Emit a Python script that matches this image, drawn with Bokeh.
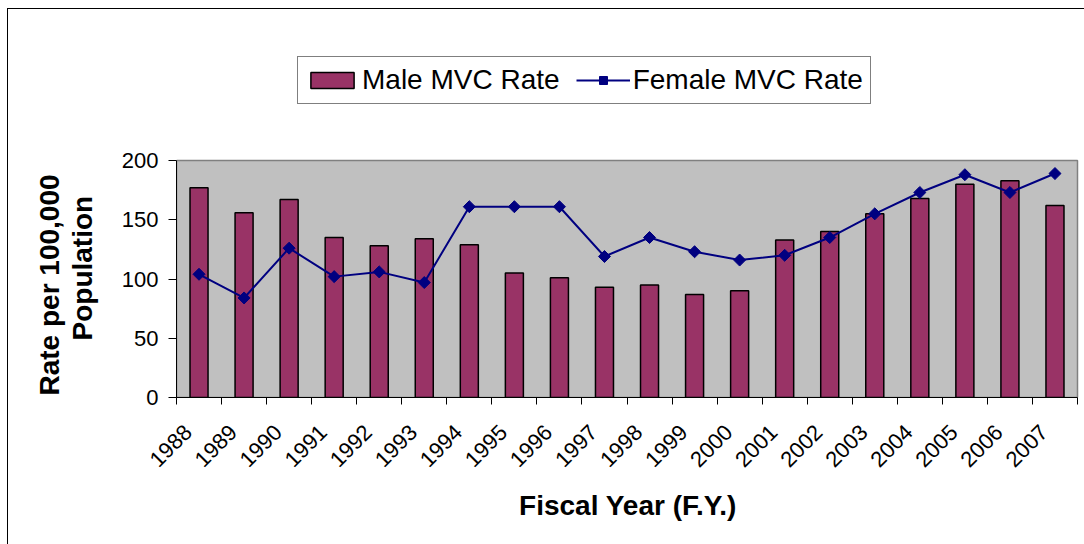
import math
from bokeh.plotting import figure
from bokeh.models import (ColumnDataSource, FixedTicker, Range1d, Legend, LegendItem, Title)
from bokeh.embed import file_html
from bokeh.resources import INLINE

# ---- data ----
years = [1988, 1989, 1990, 1991, 1992, 1993, 1994, 1995, 1996, 1997,
         1998, 1999, 2000, 2001, 2002, 2003, 2004, 2005, 2006, 2007]
year_labels = [str(y) for y in years]
male_rate = [177, 156, 167, 135, 128, 134, 129, 105, 101, 93,
             95, 87, 90, 133, 140, 155, 168, 180, 183, 162]
female_rate = [104, 84, 126, 102, 106, 97, 161, 161, 161, 119,
               135, 123, 116, 120, 135, 155, 173, 188, 173, 189]
y_ticks = [0, 50, 100, 150, 200]
y_max = 200
y_title_lines = ["Rate per 100,000", "Population"]

src = ColumnDataSource(dict(x=years, male=male_rate, female=female_rate))

FONT = "Liberation Sans"

# layout (pixels)
W, H = 1084, 544
FRAME_LEFT, FRAME_RIGHT = 176, 1079      # frame slightly wider than the plot area
AREA_RIGHT = 1077
FRAME_TOP, FRAME_BOTTOM = 50, 397
AREA_TOP = 160
x0, x1 = years[0] - 0.5, years[-1] + 0.5
px_per_x = (AREA_RIGHT - FRAME_LEFT) / (x1 - x0)
x_end = x1 + (FRAME_RIGHT - AREA_RIGHT) / px_per_x
y_end = y_max * (FRAME_BOTTOM - FRAME_TOP) / (FRAME_BOTTOM - AREA_TOP)
LABEL_SHIFT = 11 / px_per_x               # rotated labels end a little left of centre

p = figure(width=W, height=H, output_backend="svg", toolbar_location=None,
           x_range=Range1d(x0, x_end), y_range=Range1d(0, y_end),
           min_border_left=FRAME_LEFT, min_border_right=W - FRAME_RIGHT,
           min_border_top=FRAME_TOP, min_border_bottom=H - FRAME_BOTTOM)

p.background_fill_alpha = 0
p.border_fill_alpha = 0
p.outline_line_color = None
p.xgrid.grid_line_color = None
p.ygrid.grid_line_color = None

# outer chart border (left and top edges visible in the window)
p.styles = {
    "background-color": "white",
    "background-image": "linear-gradient(black, black), linear-gradient(black, black)",
    "background-size": "1px 100%, 100% 1px",
    "background-position": "7px 8px, 7px 8px",
    "background-repeat": "no-repeat",
}

# grey plot area
p.quad(left=[x0], right=[x1], bottom=[0], top=[y_max],
       fill_color="#C0C0C0", line_color="#808080", line_width=1.5)

bars = p.vbar(x="x", top="male", width=0.4, source=src,
              fill_color="#993366", line_color="black", line_width=1.5)
line = p.line(x="x", y="female", source=src, line_color="#000080", line_width=2)
pts = p.scatter(x="x", y="female", source=src, marker="square", angle=math.pi / 4,
                size=8.5, fill_color="#000080", line_color="#000080")

# x axis
label_pos = [y - LABEL_SHIFT for y in years]
xa = p.xaxis[0]
xa.bounds = (x0, x1)
xa.ticker = FixedTicker(ticks=label_pos, minor_ticks=[y - 0.5 for y in years] + [x1])
xa.major_label_overrides = {pos: lab for pos, lab in zip(label_pos, year_labels)}
xa.major_tick_line_color = None
xa.major_tick_out = 0
xa.major_tick_in = 0
xa.minor_tick_line_color = "black"
xa.minor_tick_out = 7
xa.minor_tick_in = 0
xa.axis_line_color = "black"
xa.major_label_orientation = math.pi / 4
xa.major_label_text_font = FONT
xa.major_label_text_font_size = "22px"
xa.major_label_text_color = "black"
xa.major_label_standoff = 24
xa.axis_label = "Fiscal Year (F.Y.)"
xa.axis_label_text_font = FONT
xa.axis_label_text_font_size = "28px"
xa.axis_label_text_font_style = "bold"
xa.axis_label_text_color = "black"
xa.axis_label_standoff = 13

# y axis
ya = p.yaxis[0]
ya.bounds = (0, y_max)
ya.ticker = FixedTicker(ticks=y_ticks)
ya.minor_tick_line_color = None
ya.major_tick_out = 8
ya.major_tick_in = 0
ya.major_tick_line_color = "black"
ya.axis_line_color = "black"
ya.major_label_text_font = FONT
ya.major_label_text_font_size = "22px"
ya.major_label_text_color = "black"
ya.major_label_standoff = 10

# small spacer between the tick labels and the y axis title
p.add_layout(Title(text=" ", text_font_size="1px", standoff=18), "left")

# y axis title: two lines, placed in the left panel (nearest line first)
for txt, off in [(y_title_lines[1], 57), (y_title_lines[0], 2)]:
    t = Title(text=txt, align="left", offset=off, standoff=0,
              text_font=FONT, text_font_size="28px", text_font_style="bold",
              text_color="black")
    p.add_layout(t, "left")

legend = Legend(items=[LegendItem(label="Male MVC Rate", renderers=[bars]),
                       LegendItem(label="Female MVC Rate", renderers=[line, pts])],
                orientation="horizontal",
                location=(297 - FRAME_LEFT, FRAME_BOTTOM - 104))
legend.label_text_font = FONT
legend.label_text_font_size = "28px"
legend.label_text_color = "black"
legend.glyph_width = 54
legend.glyph_height = 20
legend.label_standoff = 3
legend.spacing = 16
legend.padding = 7
legend.margin = 0
legend.border_line_color = "black"
legend.border_line_width = 1
legend.background_fill_color = "white"
legend.background_fill_alpha = 1
p.add_layout(legend, "center")

open("out.html", "w").write(file_html(p, INLINE))
